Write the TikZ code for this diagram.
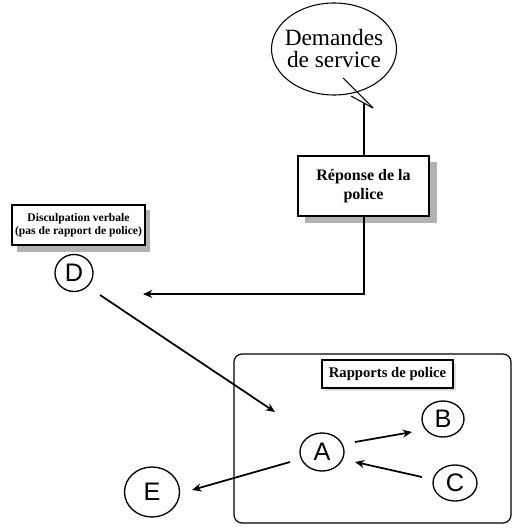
\documentclass[tikz,border=0pt]{standalone}
\usepackage{fontspec}
\setmainfont{Liberation Serif}
\setsansfont{Liberation Sans}
\usetikzlibrary{shapes.geometric,arrows.meta,calc}
\begin{document}
\begin{tikzpicture}[x=0.75pt,y=-0.75pt,
  line/.style={line width=1.3pt},
  arr/.style={line width=1.3pt,-{Stealth[length=7pt,width=6pt]}},
  letter/.style={draw,ellipse,line width=1pt,inner sep=0pt,font=\sffamily\fontsize{19}{19}\selectfont},
  boxlbl/.style={draw,rectangle,line width=0.9pt,fill=white,align=center,inner sep=1pt,font=\bfseries},
  shadow/.style={fill=gray!60,draw=none}]
\useasboundingbox (0,0) rectangle (512,531);

% Demandes de service
\node[draw,ellipse,line width=0.8pt,minimum width=93.75pt,minimum height=69pt,align=center,inner xsep=-5pt,inner ysep=0pt,font=\fontsize{17.5}{16.5}\selectfont] (dem) at (334,49) {Demandes\\de service};
\coordinate (tip) at (373,108);
\coordinate (tail) at (364,103);
\draw[line width=0.8pt] ($(dem)+(9,29)$) -- (tip);
\draw[line width=0.8pt] ($(dem)+(17,47)$) -- (tip);

% Reponse de la police
\fill[shadow] (305,162) rectangle (437,223);
\node[boxlbl,minimum width=98.25pt,minimum height=45pt,font=\bfseries\fontsize{12}{14}\selectfont] (rep) at (363.5,186) {Réponse de la\\police};
\draw[line] (tail) -- (tail |- rep.north);

% Disculpation verbale
\fill[shadow] (17,210) rectangle (150,252);
\node[boxlbl,minimum width=99.75pt,minimum height=30pt,font=\bfseries\fontsize{8.7}{9.5}\selectfont] (disc) at (78.5,225) {Disculpation verbale\\(pas de rapport de police)};

% Rapports de police frame
\draw[line width=0.9pt,rounded corners=6pt] (234,354) rectangle (511,523);
\fill[gray!25] (325,363) rectangle (456,391);
\node[boxlbl,minimum width=98.25pt,minimum height=21pt,font=\bfseries\fontsize{11}{12}\selectfont] (rap) at (387.5,374) {Rapports de police};

% Letters
\node[letter,minimum width=28.5pt,minimum height=27.75pt] (D) at (74,273) {D};
\node[letter,minimum width=33pt,minimum height=28.5pt] (A) at (322,452) {A};
\node[letter,minimum width=31.5pt,minimum height=27pt] (B) at (443,419) {B};
\node[letter,minimum width=33pt,minimum height=27pt] (C) at (455,483) {C};
\node[letter,minimum width=41.25pt,minimum height=37.5pt] (E) at (152,492) {E};

% Connectors
\draw[arr] (rep.south -| tail) |- ($(D)+(69,21)$);
\draw[arr] ($(D)+(26,22)$) -- ($(A)+(-47,-40)$);
\draw[arr] ($(A)+(33,-10)$) -- ($(B)+(-31,13)$);
\draw[arr] ($(C)+(-33,-6)$) -- ($(A)+(33,10)$);
\draw[arr] ($(A)+(-32,10)$) -- ($(E)+(40,-2)$);
\end{tikzpicture}
\end{document}
